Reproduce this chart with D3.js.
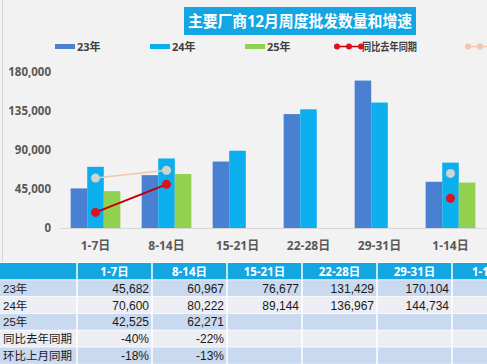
<!DOCTYPE html>
<html>
<head>
<meta charset="utf-8">
<script src="https://cdn.jsdelivr.net/npm/d3@7"></script>
<style>
  body { margin: 0; background: #ffffff; }
  svg { display: block; }
</style>
</head>
<body>
<svg id="chart"></svg>
<script>
// data
const categories = ["1-7日", "8-14日", "15-21日", "22-28日", "29-31日", "1-14日"];
const seriesNames = ["23年", "24年", "25年", "同比去年同期", "环比上月同期"];
const s23 = [45682, 60967, 76677, 131429, 170104, 53324];
const s24 = [70600, 80222, 89144, 136967, 144734, 75411];
const s25 = [42525, 62271, null, null, null, 52398];
const yoy = [-0.40, -0.22, null, null, null, -0.31];
const mom = [-0.18, -0.13, null, null, null, -0.15];
const yTicks = [0, 45000, 90000, 135000, 180000];
// weekly columns shown in the table (the 1-14 column runs off the picture)
const tableCols = 5;

const width = 487;
const height = 364;
const font = "'Open Sans', 'Noto Sans CJK SC', sans-serif";
const tableFont = "'Liberation Sans', 'Noto Sans CJK SC', sans-serif";
const colors = ["#4a80d2", "#0cafee", "#92d050", "#c00000", "#f2c6ad"];

const svg = d3.select("#chart").attr("width", width).attr("height", height);

// background of chart area
svg.append("rect").attr("x", 0).attr("y", 0).attr("width", width).attr("height", 262)
  .attr("fill", "#f2f2f2");
svg.append("line").attr("x1", 2.5).attr("x2", 2.5).attr("y1", 0).attr("y2", 262)
  .attr("stroke", "#d6d6d6");

// title
svg.append("rect").attr("x", 184).attr("y", 7).attr("width", 232).attr("height", 28)
  .attr("fill", "#13a6e3");
svg.append("text").attr("x", 188).attr("y", 27)
  .attr("textLength", 224).attr("lengthAdjust", "spacingAndGlyphs")
  .attr("fill", "#fff").attr("font-family", font).attr("font-weight", "bold")
  .attr("font-size", 16).text("主要厂商12月周度批发数量和增速");

// scales
const x = d3.scaleBand().domain(categories).range([60, 486])
  .paddingInner(0.3).paddingOuter(0.15);
const x1 = d3.scaleBand().domain([0, 1, 2]).range([0, x.bandwidth()]);
const y = d3.scaleLinear().domain([0, 180000]).range([228, 72]);
const y2 = d3.scaleLinear().domain([-0.5, 0.5]).range([228, 72]);

// y axis
const yAxis = svg.append("g").attr("transform", "translate(51,0)")
  .call(d3.axisLeft(y).tickValues(yTicks).tickFormat(d3.format(",")).tickSize(0).tickPadding(0));
yAxis.select(".domain").remove();
yAxis.selectAll("text").attr("font-family", font).attr("font-weight", "bold")
  .attr("font-size", 11.5).attr("fill", "#595959");

// x axis
const xAxis = svg.append("g").attr("transform", "translate(0,228)")
  .call(d3.axisBottom(x).tickSize(0).tickPadding(13.5));
xAxis.select(".domain").attr("stroke", "#d9d9d9");
xAxis.selectAll("text").attr("font-family", font).attr("font-weight", "bold")
  .attr("font-size", 12).attr("fill", "#595959");

// bars
const barSeries = [s23, s24, s25];
barSeries.forEach((vals, si) => {
  svg.append("g").selectAll("rect")
    .data(categories.map((c, i) => ({ c, v: vals[i] })).filter(d => d.v != null))
    .enter().append("rect")
    .attr("x", d => x(d.c) + x1(si))
    .attr("y", d => y(d.v))
    .attr("width", x1.bandwidth())
    .attr("height", d => y(0) - y(d.v))
    .attr("fill", colors[si]);
});

// lines
function drawLine(vals, lineColor, lineWidth, markerFill) {
  const pts = categories.map((c, i) => ({ c, v: vals[i] }));
  const line = d3.line()
    .defined(d => d.v != null)
    .x(d => x(d.c) + x.bandwidth() / 2)
    .y(d => y2(d.v));
  svg.append("path").datum(pts).attr("d", line)
    .attr("fill", "none").attr("stroke", lineColor).attr("stroke-width", lineWidth);
  svg.append("g").selectAll("circle")
    .data(pts.filter(d => d.v != null))
    .enter().append("circle")
    .attr("cx", d => x(d.c) + x.bandwidth() / 2)
    .attr("cy", d => y2(d.v))
    .attr("r", 4.5)
    .attr("fill", markerFill);
}
drawLine(mom, colors[4], 1.5, "#d4d2d0");
drawLine(yoy, colors[3], 2, "#e0101e");

// legend
const legendX = [55, 150, 245, 335, 466];
const legend = svg.append("g").attr("font-family", font).attr("font-weight", "bold")
  .attr("font-size", 11).attr("fill", "#404040");
seriesNames.forEach((name, i) => {
  const lx = legendX[i];
  if (i < 3) {
    legend.append("rect").attr("x", lx).attr("y", 44).attr("width", 20).attr("height", 5)
      .attr("fill", colors[i]);
    legend.append("text").attr("x", lx + 22).attr("y", 50.5).text(name);
  } else {
    const mc = i === 3 ? "#e0101e" : colors[4];
    legend.append("line").attr("x1", lx).attr("x2", lx + 26).attr("y1", 46.5).attr("y2", 46.5)
      .attr("stroke", i === 3 ? colors[3] : colors[4]).attr("stroke-width", 1.5);
    [0, 12, 24].forEach(dx => legend.append("circle").attr("cx", lx + 2 + dx).attr("cy", 46.5)
      .attr("r", 3).attr("fill", mc));
    legend.append("text").attr("x", lx + 27).attr("y", 50.5)
      .attr("textLength", 55).attr("lengthAdjust", "spacingAndGlyphs").text(name);
  }
});

// table
const tx = d3.scaleBand().domain(categories).range([77, 77 + 75 * categories.length]);
const rowH = 16.8;
const tableTop = 263;
const tableRows = [
  { label: seriesNames[0], vals: s23, fmt: d3.format(",") },
  { label: seriesNames[1], vals: s24, fmt: d3.format(",") },
  { label: seriesNames[2], vals: s25, fmt: d3.format(",") },
  { label: seriesNames[3], vals: yoy, fmt: d3.format(".0%") },
  { label: seriesNames[4], vals: mom, fmt: d3.format(".0%") }
];
const table = svg.append("g");
table.append("rect").attr("x", 0).attr("y", tableTop).attr("width", width).attr("height", rowH)
  .attr("fill", "#13a6e3");
table.selectAll(".hdr").data(categories).enter().append("text")
  .attr("x", d => tx(d) + tx.bandwidth() / 2).attr("y", tableTop + 12.5)
  .attr("text-anchor", "middle").attr("fill", "#fff")
  .attr("font-family", font).attr("font-weight", "bold").attr("font-size", 11.5)
  .text(d => d);
tableRows.forEach((row, r) => {
  const ry = tableTop + rowH * (r + 1);
  table.append("rect").attr("x", 0).attr("y", ry).attr("width", width).attr("height", rowH)
    .attr("fill", r % 2 === 0 ? "#c9d9f0" : "#eceef3");
  table.append("text").attr("x", 3).attr("y", ry + 13)
    .attr("font-family", tableFont).attr("font-size", 11.5).attr("fill", "#1a1a1a")
    .text(row.label);
  table.selectAll(null)
    .data(categories.slice(0, tableCols).map((c, i) => ({ c, v: row.vals[i] })).filter(d => d.v != null))
    .enter().append("text")
    .attr("x", d => tx(d.c) + tx.bandwidth() - 3).attr("y", ry + 13)
    .attr("text-anchor", "end")
    .attr("font-family", tableFont).attr("font-size", 12).attr("fill", "#1a1a1a")
    .text(d => row.fmt(d.v).replace("−", "-"));
  table.append("line").attr("x1", 0).attr("x2", width).attr("y1", ry).attr("y2", ry)
    .attr("stroke", "#ffffff").attr("stroke-width", 0.8);
});
// column separators
table.selectAll(".sep").data(categories).enter().append("line")
  .attr("x1", d => tx(d)).attr("x2", d => tx(d))
  .attr("y1", tableTop).attr("y2", height)
  .attr("stroke", "#ffffff").attr("stroke-width", 1.5);
</script>
</body>
</html>
